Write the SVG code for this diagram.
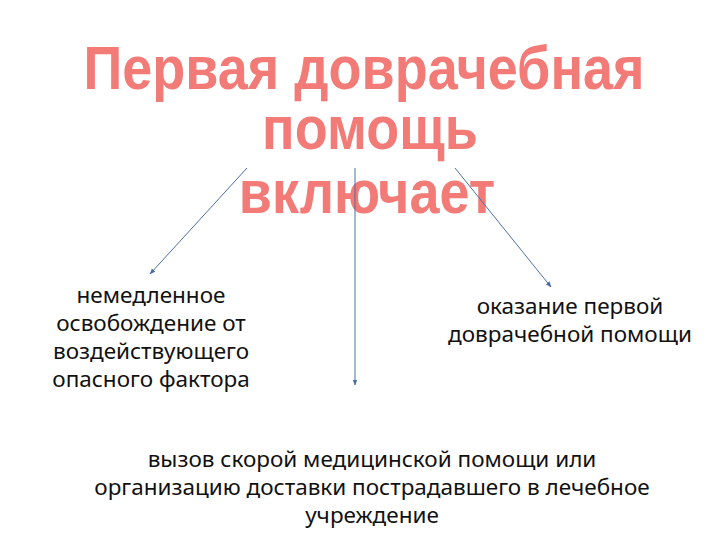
<svg xmlns="http://www.w3.org/2000/svg" width="720" height="540" viewBox="0 0 720 540">
<defs>
<style>
.title{font-family:"Liberation Sans",Arial,sans-serif;font-weight:bold;font-size:54px;fill:#F27B77;text-anchor:middle}
.lbl{font-family:"Noto Sans","Open Sans",sans-serif;font-size:22.5px;fill:#111111;text-anchor:middle}
.conn{stroke:#4A6FA5;stroke-width:1;fill:none;marker-end:url(#ah)}
</style>
<marker id="ah" viewBox="0 0 10 10" refX="9" refY="5" markerWidth="6" markerHeight="6" orient="auto" markerUnits="userSpaceOnUse">
<path d="M0,1 L10,5 L0,9 z" fill="#4A6FA5"/>
</marker>
</defs>
<rect width="720" height="540" fill="#ffffff"/>
<g id="title">
<text class="title" transform="translate(364,89) scale(1,1.12)">Первая доврачебная</text>
<text class="title" transform="translate(370,149) scale(1,1.12)">помощь</text>
<text class="title" transform="translate(367,213) scale(1,1.12)">включает</text>
</g>
<g id="connectors">
<line class="conn" x1="247" y1="168" x2="150" y2="274"/>
<line class="conn" x1="355" y1="168" x2="355" y2="385"/>
<line class="conn" x1="455" y1="168" x2="551" y2="287"/>
</g>
<g id="node-left">
<text class="lbl" x="151" y="303">немедленное</text>
<text class="lbl" x="151" y="331">освобождение от</text>
<text class="lbl" x="151" y="359">воздействующего</text>
<text class="lbl" x="151" y="387">опасного фактора</text>
</g>
<g id="node-right">
<text class="lbl" x="570" y="314">оказание первой</text>
<text class="lbl" x="570" y="342">доврачебной помощи</text>
</g>
<g id="node-bottom">
<text class="lbl" x="372" y="467">вызов скорой медицинской помощи или</text>
<text class="lbl" x="372" y="495">организацию доставки пострадавшего в лечебное</text>
<text class="lbl" x="372" y="523">учреждение</text>
</g>
</svg>
